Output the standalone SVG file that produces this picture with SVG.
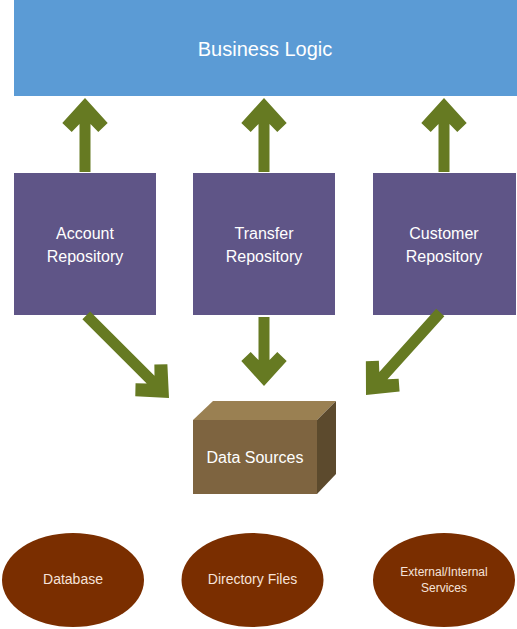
<svg xmlns="http://www.w3.org/2000/svg" width="517" height="629" viewBox="0 0 517 629">
<defs>
<style>
.t{font-family:"Liberation Sans",Arial,sans-serif;fill:#fff;text-anchor:middle}
.repo{fill:#5F5587}
.arr{fill:#667A22}
.ell{fill:#7A2E00}
.et{font-family:"Liberation Sans",Arial,sans-serif;fill:#F6E3DA;text-anchor:middle}
</style>
</defs>
<rect width="517" height="629" fill="#fff"/>
<g id="business-logic">
<rect x="14" y="0" width="503" height="96" fill="#5B9BD5"/>
<text class="t" x="265" y="56" font-size="20">Business Logic</text>
</g>
<g id="account-repository">
<rect class="repo" x="14" y="173" width="142" height="142"/>
<text class="t" x="85" y="239" font-size="16">Account</text>
<text class="t" x="85" y="262" font-size="16">Repository</text>
</g>
<g id="transfer-repository">
<rect class="repo" x="193" y="173" width="142" height="142"/>
<text class="t" x="264" y="239" font-size="16">Transfer</text>
<text class="t" x="264" y="262" font-size="16">Repository</text>
</g>
<g id="customer-repository">
<rect class="repo" x="373" y="173" width="143" height="142"/>
<text class="t" x="444" y="239" font-size="16">Customer</text>
<text class="t" x="444" y="262" font-size="16">Repository</text>
</g>
<g id="connectors">
<path class="arr" transform="translate(85,98)" d="M0,0 L22.7,25 L13.3,34 L5.5,26 L5.5,74 L-5.5,74 L-5.5,26 L-13.3,34 L-22.7,25 Z"/>
<path class="arr" transform="translate(264,98)" d="M0,0 L22.7,25 L13.3,34 L5.5,26 L5.5,74 L-5.5,74 L-5.5,26 L-13.3,34 L-22.7,25 Z"/>
<path class="arr" transform="translate(444,98)" d="M0,0 L22.7,25 L13.3,34 L5.5,26 L5.5,74 L-5.5,74 L-5.5,26 L-13.3,34 L-22.7,25 Z"/>
<path class="arr" transform="translate(264,386) rotate(180)" d="M0,0 L22.7,25 L13.3,34 L5.5,26 L5.5,69 L-5.5,69 L-5.5,26 L-13.3,34 L-22.7,25 Z"/>
<path class="arr" transform="translate(169,398) rotate(135)" d="M0,0 L22.7,25 L13.3,34 L5.5,26 L5.5,117 L-5.5,117 L-5.5,26 L-13.3,34 L-22.7,25 Z"/>
<path class="arr" transform="translate(366,395) rotate(222)" d="M0,0 L22.7,25 L13.3,34 L5.5,26 L5.5,111 L-5.5,111 L-5.5,26 L-13.3,34 L-22.7,25 Z"/>
</g>
<g id="data-sources">
<polygon points="193,420 213,401 336,401 317,420" fill="#9A8052"/>
<polygon points="317,420 336,401 336,474 317,494" fill="#5C4A2D"/>
<rect x="193" y="420" width="124" height="74" fill="#7E6440"/>
<text class="t" x="255" y="463" font-size="16">Data Sources</text>
</g>
<g id="database">
<ellipse class="ell" cx="73" cy="580" rx="71" ry="47"/>
<text class="et" x="73" y="584" font-size="14">Database</text>
</g>
<g id="directory-files">
<ellipse class="ell" cx="252.5" cy="580" rx="71" ry="47"/>
<text class="et" x="252.5" y="584" font-size="14">Directory Files</text>
</g>
<g id="external-internal-services">
<ellipse class="ell" cx="444" cy="580" rx="71" ry="47"/>
<text class="et" x="444" y="576" font-size="12">External/Internal</text>
<text class="et" x="444" y="592" font-size="12">Services</text>
</g>
</svg>
